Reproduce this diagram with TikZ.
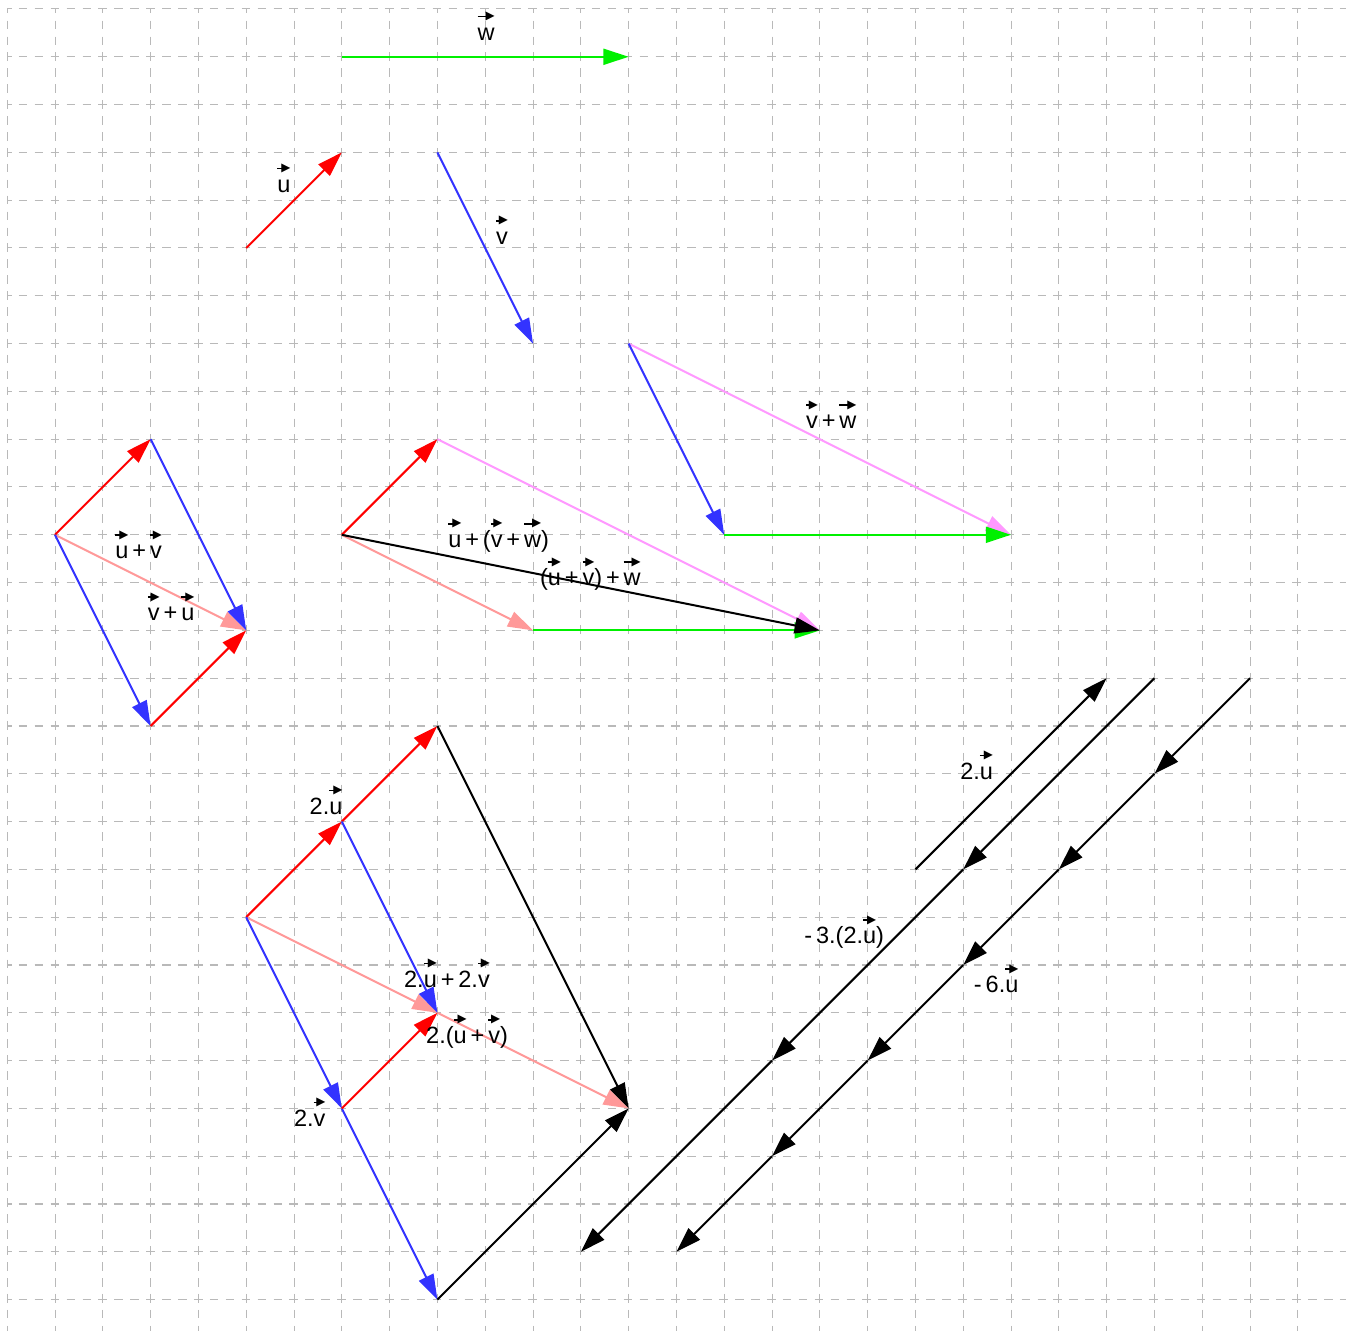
\documentclass[tikz,border=0pt]{standalone}
\usepackage{fontspec}
\setmainfont{Liberation Sans}
\newfontfamily\djv{DejaVu Sans}
\usetikzlibrary{arrows.meta}
\definecolor{vred}{RGB}{255,0,0}
\definecolor{vblue}{RGB}{51,51,255}
\definecolor{vgreen}{RGB}{0,240,0}
\definecolor{vviolet}{RGB}{255,153,255}
\definecolor{vpink}{RGB}{255,153,153}
\definecolor{gridgray}{RGB}{185,185,185}
\newsavebox\vvbox
\newsavebox\tribox
\newlength\vvw
\newlength\trimid
\newcommand{\vv}[1]{\leavevmode\sbox\vvbox{#1}\setlength\vvw{\wd\vvbox}%
  \sbox\tribox{\djv\fontsize{7}{7}\selectfont ▶}%
  \setlength\trimid{\dimexpr(\ht\tribox-\dp\tribox)/2\relax}%
  \vbox{\offinterlineskip
    \hbox to\vvw{\leaders\hrule height\dimexpr\trimid+0.5pt\relax depth\dimexpr0.5pt-\trimid\relax\hfill\kern-1.2pt\copy\tribox}%
    \kern4pt\copy\vvbox}}
\tikzset{
  vec/.style={line width=1.2pt,-{Triangle[length=15pt,width=9.5pt]}},
  lab/.style={font=\fontsize{14}{16}\selectfont,inner sep=0pt,text=black},
  gridline/.style={gridgray,line width=0.6pt,dash pattern=on 0.18cm off 0.153cm,dash phase=0.09cm}
}
\begin{document}
\begin{tikzpicture}
\fill[white] (-0.151,0.188) rectangle (28.008,-27.657);
\useasboundingbox (-0.151,0.188) rectangle (28.008,-27.657);
% grid
\foreach \c in {0,...,27} \draw[gridline] (\c,0) -- (\c,-27.66);
\foreach \r in {0,...,27} \draw[gridline] (0,-\r) -- (28.01,-\r);
% top vectors
\coordinate (uA) at (5,-5); \coordinate (uB) at (7,-3);
\coordinate (vA) at (9,-3); \coordinate (vB) at (11,-7);
\coordinate (wA) at (7,-1); \coordinate (wB) at (13,-1);
\draw[vec,vred] (uA) -- (uB);
\draw[vec,vblue] (vA) -- (vB);
\draw[vec,vgreen] (wA) -- (wB);
\node[lab] (lu) at (5.79,-3.54) {\vv{u}};
\node[lab] (lv) at (10.35,-4.63) {\vv{v}};
\node[lab] (lw) at (10.02,-0.36) {\vv{w}};
% left parallelogram
\coordinate (P0) at (1,-11); \coordinate (P1) at (3,-9);
\coordinate (P2) at (5,-13); \coordinate (P3) at (3,-15);
\draw[vec,vpink] (P0) -- (P2);
\draw[vec,vred] (P0) -- (P1);
\draw[vec,vblue] (P1) -- (P2);
\draw[vec,vblue] (P0) -- (P3);
\draw[vec,vred] (P3) -- (P2);
\node[lab] (luv) at (2.75,-11.21) {\vv{u}\,+\,\vv{v}};
\node[lab] (lvu) at (3.43,-12.51) {\vv{v}\,+\,\vv{u}};
% middle associativity
\coordinate (M0) at (7,-11); \coordinate (M1) at (9,-9);
\coordinate (M2) at (11,-13); \coordinate (M3) at (17,-13);
\draw[vec,vpink] (M0) -- (M2);
\draw[vec,vviolet] (M1) -- (M3);
\draw[vec,vgreen] (M2) -- (M3);
\draw[vec,vred] (M0) -- (M1);
\draw[vec,black] (M0) -- (M3);
\node[lab] (luvw) at (10.28,-11.02) {\vv{u}\,+\,(\vv{v}\,+\,\vv{w})};
\node[lab] (luvw2) at (12.2,-11.82) {(\vv{u}\,+\,\vv{v})\,+\,\vv{w}};
% right triangle
\coordinate (R0) at (13,-7); \coordinate (R1) at (15,-11); \coordinate (R2) at (21,-11);
\draw[vec,vviolet] (R0) -- (R2);
\draw[vec,vblue] (R0) -- (R1);
\draw[vec,vgreen] (R1) -- (R2);
\node[lab] (lvw) at (17.24,-8.49) {\vv{v}\,+\,\vv{w}};
% bottom scaling
\coordinate (S0) at (5,-19); \coordinate (S1) at (7,-17); \coordinate (S2) at (9,-15);
\coordinate (S3) at (9,-21); \coordinate (S4) at (7,-23); \coordinate (S5) at (9,-27);
\coordinate (S6) at (13,-23);
\draw[vec,vpink] (S0) -- (S3);
\draw[vec,vpink] (S3) -- (S6);
\draw[vec,vred] (S0) -- (S1);
\draw[vec,vred] (S1) -- (S2);
\draw[vec,vblue] (S1) -- (S3);
\draw[vec,vblue] (S0) -- (S4);
\draw[vec,vblue] (S4) -- (S5);
\draw[vec,vred] (S4) -- (S3);
\draw[vec,black] (S2) -- (S6);
\draw[vec,black] (S5) -- (S6);
\node[lab] (l2u) at (6.67,-16.55) {2.\vv{u}};
\node[lab] (l2v) at (6.33,-23.08) {2.\vv{v}};
\node[lab] (l2u2v) at (9.2,-20.17) {2.\vv{u}\,+\,2.\vv{v}};
\node[lab] (l2uv) at (9.62,-21.4) {2.(\vv{u}\,+\,\vv{v})};
% right lines
\coordinate (T0) at (19,-18); \coordinate (T1) at (23,-14);
\draw[vec,black] (T0) -- (T1);
\coordinate (K0) at (24,-14); \coordinate (K1) at (20,-18);
\coordinate (K2) at (16,-22); \coordinate (K3) at (12,-26);
\draw[vec,black] (K0) -- (K1);
\draw[vec,black] (K1) -- (K2);
\draw[vec,black] (K2) -- (K3);
\coordinate (L0) at (26,-14); \coordinate (L1) at (24,-16); \coordinate (L2) at (22,-18);
\coordinate (L3) at (20,-20); \coordinate (L4) at (18,-22); \coordinate (L5) at (16,-24);
\coordinate (L6) at (14,-26);
\draw[vec,black] (L0) -- (L1);
\draw[vec,black] (L1) -- (L2);
\draw[vec,black] (L2) -- (L3);
\draw[vec,black] (L3) -- (L4);
\draw[vec,black] (L4) -- (L5);
\draw[vec,black] (L5) -- (L6);
\node[lab] (lr2u) at (20.28,-15.82) {2.\vv{u}};
\node[lab] (lm3) at (17.51,-19.31) {-\,3.(2.\vv{u})};
\node[lab] (lm6) at (20.69,-20.29) {-\,6.\vv{u}};
\end{tikzpicture}
\end{document}
